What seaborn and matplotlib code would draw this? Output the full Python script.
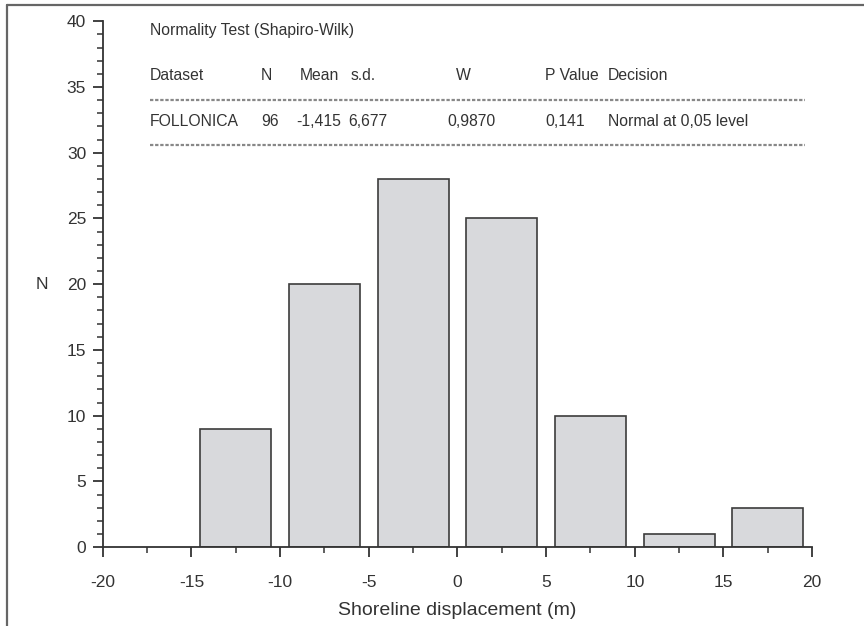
import matplotlib
matplotlib.use("Agg")
import matplotlib.pyplot as plt
from matplotlib.lines import Line2D
from matplotlib.ticker import MultipleLocator
import seaborn as sns
import pandas as pd

# Histogram of shoreline displacement (bin centres and counts)
bin_centers = [-12.5, -7.5, -2.5, 2.5, 7.5, 12.5, 17.5]
counts = [9, 20, 28, 25, 10, 1, 3]
bin_edges = [-15, -10, -5, 0, 5, 10, 15, 20]

# Shapiro-Wilk summary table
table_title = "Normality Test (Shapiro-Wilk)"
table_header = ["Dataset", "N", "Mean", "s.d.", "W", "P Value", "Decision"]
table_row = ["FOLLONICA", "96", "-1,415", "6,677", "0,9870", "0,141", "Normal at 0,05 level"]

sns.set_style("ticks")
plt.rcParams["font.family"] = ["Liberation Sans", "DejaVu Sans"]

df = pd.DataFrame({"center": bin_centers, "count": counts})

fig = plt.figure(figsize=(8.64, 6.26), dpi=100)
ax = fig.add_axes([0.119, 0.126, 0.821, 0.840])

sns.histplot(data=df, x="center", weights="count", bins=bin_edges, shrink=0.8,
             color="#d8d9dc", edgecolor="#3c3c3c", linewidth=1.2, alpha=1.0, ax=ax)

ax.set_xlim(-20, 20)
ax.set_ylim(0, 40)
ax.xaxis.set_major_locator(MultipleLocator(5))
ax.xaxis.set_minor_locator(MultipleLocator(2.5))
ax.yaxis.set_major_locator(MultipleLocator(5))
ax.yaxis.set_minor_locator(MultipleLocator(1))
ax.set_xticks(range(-20, 25, 5))
ax.set_xticklabels([str(v) for v in range(-20, 25, 5)])

for s in ["top", "right"]:
    ax.spines[s].set_visible(False)
for s in ["left", "bottom"]:
    ax.spines[s].set_color("#333333")
    ax.spines[s].set_linewidth(1.3)

ax.tick_params(axis="both", which="major", length=7, width=1.3, color="#333333",
               labelsize=12.5, labelcolor="#333333")
ax.tick_params(axis="x", which="major", pad=13)
ax.tick_params(axis="y", which="major", pad=5)
ax.tick_params(axis="both", which="minor", length=4, width=1.1, color="#333333")

ax.set_xlabel("Shoreline displacement (m)", fontsize=14, color="#333333", labelpad=9)
ax.set_ylabel("N", fontsize=12.5, color="#333333", rotation=0, va="center", ha="center")
ax.yaxis.set_label_coords(-0.086, 0.5)

# Summary table drawn in figure coordinates
tfont = dict(fontsize=11.3, color="#333333", va="center", ha="left",
             family=["Liberation Sans Narrow", "Liberation Sans", "DejaVu Sans"])
W, H = 864, 626
fig.text(150 / W, 1 - 30 / H, table_title, **tfont)
col_x = [150, 261, 300, 351, 456, 545, 608]
row_x = [150, 261, 296, 348, 447, 545, 608]
for x, t in zip(col_x, table_header):
    fig.text(x / W, 1 - 75 / H, t, **tfont)
for x, t in zip(row_x, table_row):
    fig.text(x / W, 1 - 121 / H, t, **tfont)
for y in [100, 145]:
    fig.add_artist(Line2D([150 / W, 805 / W], [1 - y / H, 1 - y / H],
                          color="#888888", linewidth=1.6, linestyle=(0, (1.5, 0.8))))

# Frame around the figure (left and top edges)
fig.add_artist(Line2D([7 / W, 7 / W], [0, 1 - 5 / H], color="#666666", linewidth=1.6))
fig.add_artist(Line2D([7 / W, 1], [1 - 5 / H, 1 - 5 / H], color="#666666", linewidth=1.6))

fig.savefig("out.png", dpi=100, facecolor="white")
